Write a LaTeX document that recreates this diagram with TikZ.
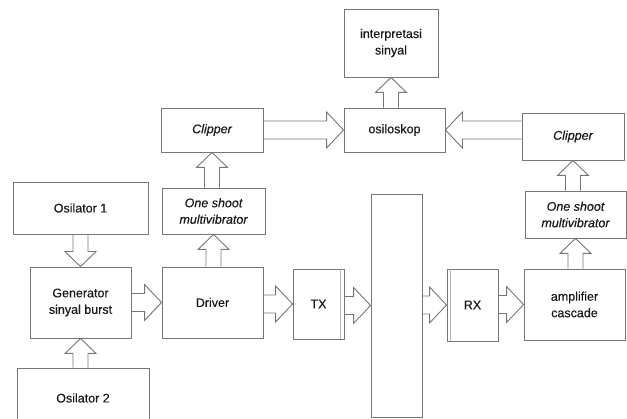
\documentclass[tikz,border=0pt]{standalone}
\usepackage{fontspec}
\setmainfont{Liberation Sans}[UprightFeatures={FakeBold=0.5},ItalicFeatures={FakeBold=0.5}]
\usepackage{tikz}
\usetikzlibrary{calc, positioning}
\definecolor{lgray}{HTML}{767676}
\definecolor{igray}{HTML}{B4B4B4}
\definecolor{txt}{HTML}{1A1A1A}
\tikzset{
  x=1pt, y=-1pt,
  box/.style={draw=lgray, line width=0.9pt, align=center, inner sep=1pt,
    text=txt, font=\fontsize{12.5}{16.5}\selectfont},
  ital/.style={font=\fontsize{12.5}{16.5}\selectfont\itshape},
  arr/.style={draw=lgray, line width=0.9pt, line join=miter},
  inner/.style={draw=igray, line width=1.5pt},
  harrow/.style={to path={
    let \p1=(\tikztostart), \p2=(\tikztotarget), \n1={17*sign(\x2-\x1)} in
    (\x1,\y2+9pt) -- ({\x2-(\n1)*1pt},\y2+9pt) -- ({\x2-(\n1)*1pt},\y2+18pt)
    -- (\x2,\y2) -- ({\x2-(\n1)*1pt},\y2-18pt) -- ({\x2-(\n1)*1pt},\y2-9pt)
    -- (\x1,\y2-9pt)}},
  varrow/.style={to path={
    let \p1=(\tikztostart), \p2=(\tikztotarget), \n1={15*sign(\y2-\y1)} in
    (\x2-7.5pt,\y1) -- (\x2-7.5pt,{\y2-(\n1)*1pt}) -- (\x2-15.5pt,{\y2-(\n1)*1pt})
    -- (\x2,\y2) -- (\x2+15.5pt,{\y2-(\n1)*1pt}) -- (\x2+7.5pt,{\y2-(\n1)*1pt})
    -- (\x2+7.5pt,\y1)}},
}

\begin{document}
\begin{tikzpicture}
  \useasboundingbox (0,0) rectangle (627,419);

  % transmitter side
  \node[box, minimum width=135pt, minimum height=52pt] (osc1)  at (80.5,208)   {Osilator 1};
  \node[box, minimum width=101pt, minimum height=71pt] (gen)   at (80.5,302.5) {Generator\\sinyal burst};
  \node[box, minimum width=132pt, minimum height=60pt] (osc2)  at (83,398)     {Osilator 2};
  \node[box, minimum width=101pt, minimum height=71pt] (drv)   at (212.5,302.5) {Driver};
  \node[box, ital, minimum width=103pt, minimum height=46pt] (shot1) at (213.5,211) {One shoot\\multivibrator};
  \node[box, ital, minimum width=102pt, minimum height=44pt] (clip1) at (212,130) {Clipper};
  \node[box, minimum width=51pt, minimum height=70pt]  (tx)    at (318.5,304)  {TX};

  % channel and display
  \node[box, minimum width=51pt, minimum height=223pt] (ch)    at (396.5,305.5) {};
  \node[box, minimum width=101pt, minimum height=44pt] (osk)   at (394.5,130)  {osiloskop};
  \node[box, minimum width=94pt, minimum height=68pt]  (intp)  at (391,43)     {interpretasi\\sinyal};

  % receiver side
  \node[box, minimum width=51pt, minimum height=72pt]  (rx)    at (472.5,305)  {RX};
  \node[box, minimum width=101pt, minimum height=71pt] (amp)   at (574.5,304.5) {amplifier\\cascade};
  \node[box, ital, minimum width=101pt, minimum height=47pt] (shot2) at (575.5,214.5) {One shoot\\multivibrator};
  \node[box, ital, minimum width=102pt, minimum height=47pt] (clip2) at (573,136.5) {Clipper};

  \draw[inner] ([xshift=-4pt]tx.north east) -- ([xshift=-4pt]tx.south east);
  \draw[inner] ([xshift=4pt]rx.north west) -- ([xshift=4pt]rx.south west);

  \draw[arr] (osc1.south)  to[varrow] (gen.north);
  \draw[arr] (osc2.north)  to[varrow] (gen.south);
  \draw[arr] (gen.east)    to[harrow] (drv.west);
  \draw[arr] (drv.north)   to[varrow] (shot1.south);
  \draw[arr] (shot1.north) to[varrow] (clip1.south);
  \draw[arr] (clip1.east)  to[harrow] (osk.west);
  \draw[arr] (osk.north)   to[varrow] (intp.south);
  \draw[arr] (drv.east)    to[harrow] (tx.west);
  \draw[arr] (tx.east)     to[harrow] (ch.west);
  \draw[arr] (ch.east)     to[harrow] (rx.west);
  \draw[arr] (rx.east)     to[harrow] (amp.west);
  \draw[arr] (amp.north)   to[varrow] (shot2.south);
  \draw[arr] (shot2.north) to[varrow] (clip2.south);
  \draw[arr] (clip2.west)  to[harrow] (osk.east);
\end{tikzpicture}
\end{document}
